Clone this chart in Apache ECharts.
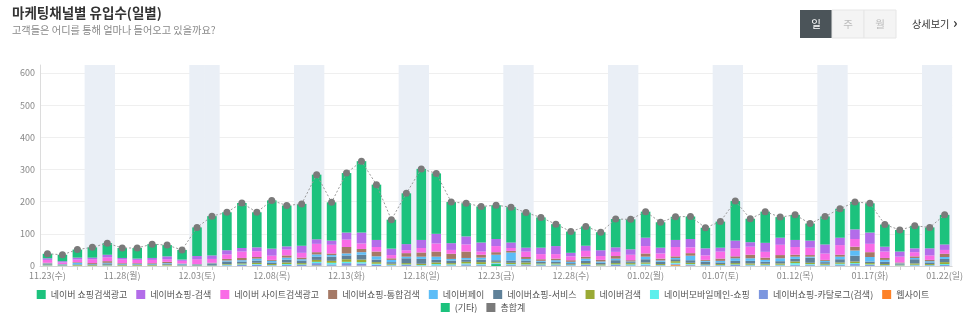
<!DOCTYPE html>
<html>
<head>
<meta charset="utf-8">
<script src="https://cdn.jsdelivr.net/npm/echarts@6/dist/echarts.min.js"></script>
<style>
  html, body { margin: 0; padding: 0; background: #ffffff; }
  #chart { width: 966px; height: 324px; }
</style>
</head>
<body>
<div id="chart"></div>
<script>
// Daily visits per marketing channel, 2016-11-23 .. 2017-01-22
const dates = [
  '11.23','11.24','11.25','11.26','11.27','11.28','11.29','11.30','12.01','12.02',
  '12.03','12.04','12.05','12.06','12.07','12.08','12.09','12.10','12.11','12.12',
  '12.13','12.14','12.15','12.16','12.17','12.18','12.19','12.20','12.21','12.22',
  '12.23','12.24','12.25','12.26','12.27','12.28','12.29','12.30','12.31','01.01',
  '01.02','01.03','01.04','01.05','01.06','01.07','01.08','01.09','01.10','01.11',
  '01.12','01.13','01.14','01.15','01.16','01.17','01.18','01.19','01.20','01.21',
  '01.22'
];

const shoppingAds = [14,20,25,32,36,31,33,43,35,30,89,122,118,140,109,150,127,130,201,119,
  185,222,172,90,158,221,188,128,103,112,105,110,109,94,68,66,60,56,88,93,
  81,79,72,70,64,81,123,73,97,64,78,53,87,90,85,91,69,67,70,65,92];
const shoppingSearch = [5,4,6,5,8,5,4,6,9,4,10,11,13,11,12,22,10,22,14,13,
  22,34,22,20,19,25,30,21,25,28,22,17,12,20,25,11,16,18,14,17,
  26,18,22,26,22,12,24,14,28,22,22,22,28,23,30,35,15,16,12,22,17];
const siteAds = [9,5,8,12,12,11,10,10,8,8,15,12,14,20,18,13,18,15,26,27,
  23,17,14,10,9,14,25,12,22,10,19,9,17,16,14,12,18,12,13,17,
  23,16,29,18,14,22,25,25,18,32,24,23,20,30,24,26,20,18,13,14,12];
const integrated = [2,1,2,3,5,2,2,2,4,1,1,2,5,7,5,3,7,5,7,5,
  20,10,15,5,11,13,16,16,20,9,8,5,6,5,5,5,6,5,8,4,
  10,6,5,8,3,7,6,11,7,10,6,5,3,6,12,15,6,3,5,4,10];
const naverPay = [2,2,5,1,2,2,2,2,2,2,1,2,3,4,6,5,6,4,7,5,
  6,8,10,7,5,7,10,5,5,6,17,25,5,3,5,4,7,4,5,2,
  8,4,4,14,3,5,8,8,6,9,7,3,4,8,16,14,6,2,4,4,6];
const shopService = [2,1,2,2,4,2,2,2,3,3,2,4,8,6,7,5,9,8,10,13,
  12,15,8,5,15,15,8,8,7,8,5,7,6,5,5,4,7,5,9,3,
  10,7,6,8,8,5,7,8,6,7,8,16,5,10,18,5,7,2,13,5,10];
const naverSearch = [2,1,2,2,2,2,2,2,2,1,1,1,2,3,4,3,5,4,6,6,
  8,8,5,3,4,4,5,4,5,6,3,4,6,3,3,2,4,3,4,4,
  4,3,5,4,2,3,4,4,3,4,5,4,3,4,5,4,3,2,4,3,6];
const mobileMain = [1,1,1,1,1,1,1,1,1,1,1,1,2,2,2,1,3,2,4,5,
  4,4,3,2,2,2,4,3,3,2,2,2,2,2,2,1,2,1,2,3,
  3,1,3,2,1,1,2,2,2,2,5,2,2,3,3,2,1,1,2,1,3];
const catalog = [1,0,0,0,1,0,0,0,0,0,0,0,2,3,4,2,3,3,7,4,
  8,7,4,2,3,1,2,2,4,3,2,3,2,2,2,2,3,1,3,2,
  3,2,3,3,2,2,3,2,2,2,3,3,2,3,5,3,2,1,2,2,3];
const website = [0,0,0,0,0,0,0,0,1,0,0,0,0,0,0,0,0,0,1,0,
  1,1,0,0,0,0,0,0,0,0,0,0,1,0,0,0,0,0,0,0,
  0,0,3,1,0,0,0,0,0,0,0,0,0,0,0,0,0,0,0,0,0];
const others = [0,0,0,0,0,0,0,0,0,0,0,0,0,0,0,0,0,0,1,1,
  0,0,0,0,0,0,0,0,1,1,6,1,0,1,1,0,0,0,0,0,
  1,0,1,0,0,0,0,0,0,0,1,1,0,1,1,0,0,0,0,0,0];
const totals = [38,35,51,58,71,56,56,68,65,50,120,155,167,196,167,204,188,193,284,198,
  289,326,253,144,226,302,288,199,195,185,189,183,166,151,130,107,123,105,146,145,
  169,136,153,154,119,138,202,147,169,152,159,132,154,178,199,195,129,112,125,120,159];

const channels = [
  { name: '네이버 쇼핑검색광고',       data: shoppingAds,    color: '#1cc27d' },
  { name: '네이버쇼핑-검색',           data: shoppingSearch, color: '#b36ce9' },
  { name: '네이버 사이트검색광고',     data: siteAds,        color: '#f96be6' },
  { name: '네이버쇼핑-통합검색',       data: integrated,     color: '#a57966' },
  { name: '네이버페이',                data: naverPay,       color: '#5cbdf7' },
  { name: '네이버쇼핑-서비스',         data: shopService,    color: '#5f8199' },
  { name: '네이버검색',                data: naverSearch,    color: '#9aaa35' },
  { name: '네이버모바일메인-쇼핑',     data: mobileMain,     color: '#5cefec' },
  { name: '네이버쇼핑-카탈로그(검색)', data: catalog,        color: '#7c96df' },
  { name: '웹사이트',                  data: website,        color: '#fd8127' },
  { name: '(기타)',                    data: others,         color: '#1cc27d' }
];
const totalName = '총합계';
// Value axis: labelled up to 600, with a little head room above the last grid line
const yLabelMax = 600;
const yTop = 625;

// Calendar helpers: year rolls over in January
const weekdayNames = ['일','월','화','수','목','금','토'];
function dayOfWeek(md) {
  const [m, d] = md.split('.').map(Number);
  const year = m === 1 ? 2017 : 2016;
  return new Date(year, m - 1, d).getDay();
}
// Full-height shading behind Saturdays and Sundays
const weekendBand = dates.map(md => {
  const w = dayOfWeek(md);
  return (w === 0 || w === 6) ? yTop : '-';
});

const FONT = '"Noto Sans CJK KR", "Noto Sans", sans-serif';

const chart = echarts.init(document.getElementById('chart'), null, { renderer: 'canvas' });

// First channel sits on top of each stack, so stack them in reverse order
const stackSeries = channels.slice().reverse().map(ch => ({
  name: ch.name,
  type: 'bar',
  stack: 'visits',
  barWidth: '64%',
  itemStyle: { color: ch.color },
  emphasis: { disabled: true },
  data: ch.data
}));

const legendBase = {
  left: 'center',
  itemWidth: 9,
  itemHeight: 9,
  itemGap: 9,
  icon: 'rect',
  textStyle: { fontSize: 9, color: '#555', fontFamily: FONT }
};

// Grid lines at 0..600 only; the extra tick at the top edge stays invisible
const gridLineColors = [];
for (let v = 0; v <= yLabelMax; v += 100) gridLineColors.push('#efefef');
gridLineColors.push('rgba(0,0,0,0)');

const option = {
  animation: false,
  textStyle: { fontFamily: FONT },
  grid: { left: 40, right: 5, top: 65, bottom: 58 },
  legend: [
    Object.assign({}, legendBase, {
      top: 285,
      data: channels.slice(0, 10).map(c => c.name)
    }),
    Object.assign({}, legendBase, {
      top: 298,
      data: [channels[10].name, totalName]
    })
  ],
  xAxis: [
    {
      type: 'category',
      data: dates,
      boundaryGap: true,
      axisLine: { lineStyle: { color: '#d5d5d5' } },
      axisTick: { show: true, alignWithLabel: true, interval: 0, length: 4, lineStyle: { color: '#cfcfcf' } },
      axisLabel: {
        interval: 4,
        fontSize: 9,
        color: '#888',
        margin: 5,
        formatter: v => v + '(' + weekdayNames[dayOfWeek(v)] + ')'
      }
    },
    {
      type: 'category',
      data: dates,
      boundaryGap: true,
      show: false
    }
  ],
  yAxis: {
    type: 'value',
    min: 0,
    max: yTop,
    interval: 100,
    axisLine: { show: true, lineStyle: { color: '#dcdcdc' } },
    axisTick: { show: false },
    axisLabel: { fontSize: 9, color: '#888', margin: 5, showMaxLabel: false },
    splitLine: { lineStyle: { color: gridLineColors } }
  },
  series: [
    {
      name: 'weekend',
      type: 'bar',
      xAxisIndex: 1,
      barWidth: '103%',
      silent: true,
      z: 0,
      itemStyle: { color: '#eaeff6' },
      data: weekendBand
    }
  ].concat(stackSeries).concat([
    {
      name: totalName,
      type: 'line',
      z: 5,
      symbol: 'circle',
      symbolSize: 7,
      itemStyle: { color: '#7a7a7a' },
      lineStyle: { color: '#9a9a9a', width: 1, type: [2, 2] },
      emphasis: { disabled: true },
      data: totals
    }
  ]),
  graphic: [
    { type: 'text', left: 12, top: 6,
      style: { text: '마케팅채널별 유입수(일별)', fontSize: 13.5, fontWeight: 'bold', fill: '#333', fontFamily: FONT } },
    { type: 'text', left: 12, top: 25,
      style: { text: '고객들은 어디를 통해 얼마나 들어오고 있을까요?', fontSize: 10.2, fill: '#888', fontFamily: FONT } },
    { type: 'rect', shape: { x: 800, y: 10, width: 32, height: 28 }, style: { fill: '#4b5459' } },
    { type: 'rect', shape: { x: 832, y: 10, width: 32, height: 28 }, style: { fill: '#f4f4f4', stroke: '#e6e6e6', lineWidth: 1 } },
    { type: 'rect', shape: { x: 864, y: 10, width: 32, height: 28 }, style: { fill: '#f4f4f4', stroke: '#e6e6e6', lineWidth: 1 } },
    { type: 'text', x: 816, y: 24, style: { text: '일', fontSize: 10.5, fill: '#fff', align: 'center', verticalAlign: 'middle', fontFamily: FONT } },
    { type: 'text', x: 848, y: 24, style: { text: '주', fontSize: 10.5, fill: '#bbb', align: 'center', verticalAlign: 'middle', fontFamily: FONT } },
    { type: 'text', x: 880, y: 24, style: { text: '월', fontSize: 10.5, fill: '#bbb', align: 'center', verticalAlign: 'middle', fontFamily: FONT } },
    { type: 'text', x: 912, y: 24, style: { text: '상세보기', fontSize: 10.2, fill: '#333', verticalAlign: 'middle', fontFamily: FONT } },
    { type: 'text', x: 953, y: 23, style: { text: '›', fontSize: 14, fontWeight: 'bold', fill: '#333', verticalAlign: 'middle', fontFamily: FONT } }
  ]
};

chart.setOption(option);
</script>
</body>
</html>
